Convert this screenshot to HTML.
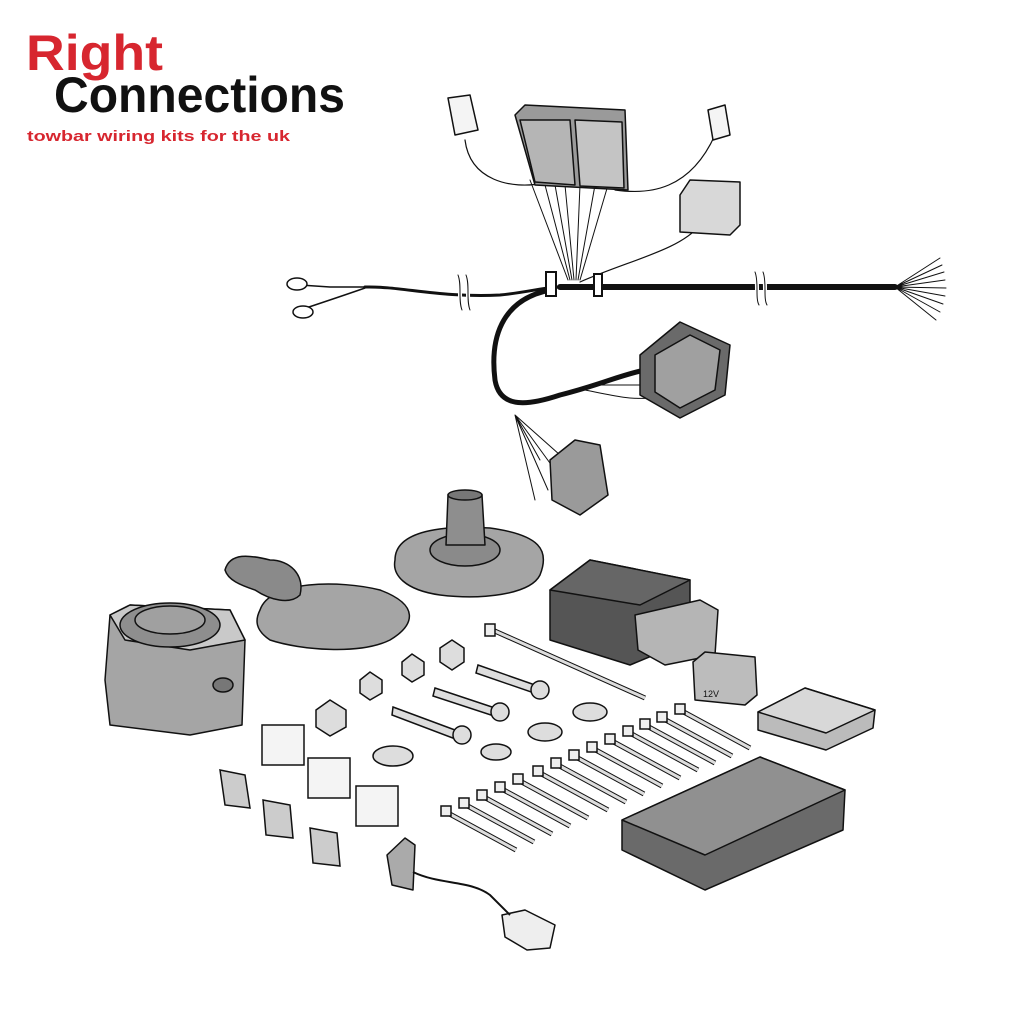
<!DOCTYPE html>
<html><head><meta charset="utf-8"><style>
html,body{margin:0;padding:0;background:#fff;}
svg{display:block}
</style></head><body>
<svg width="1024" height="1024" viewBox="0 0 1024 1024" xmlns="http://www.w3.org/2000/svg" font-family="Liberation Sans, sans-serif">
<defs>
<g id="tie" stroke="#111" stroke-width="1.5" fill="#eee">
<path d="M0 0 L70 38" stroke-width="5" stroke="#111"/><path d="M0 0 L70 38" stroke-width="3" stroke="#ddd"/>
<rect x="-5" y="-6" width="10" height="10"/>
</g>
</defs>
<rect width="1024" height="1024" fill="#fff"/>
<!-- Logo -->
<text x="26" y="70" font-size="50" font-weight="bold" fill="#d7262f" textLength="137" lengthAdjust="spacingAndGlyphs">Right</text>
<text x="54" y="112" font-size="50" font-weight="bold" fill="#111" textLength="291" lengthAdjust="spacingAndGlyphs">Connections</text>
<text x="27" y="141" font-size="15" font-weight="bold" fill="#d7262f" textLength="263" lengthAdjust="spacingAndGlyphs">towbar wiring kits for the uk</text>

<g stroke="#111" fill="none" stroke-linecap="round">
<path d="M365 287 C400 286 440 298 500 295 C530 292 545 287 560 287" stroke-width="3"/>
<path d="M560 287 L895 287" stroke-width="6"/>
<path d="M550 290 C500 300 490 340 495 380 C500 410 530 405 560 395 C600 385 620 375 645 370" stroke-width="5"/>
<path d="M330 287 L365 287 M300 285 L330 287 M300 310 C330 300 345 295 365 288" stroke-width="1.5"/>
<ellipse cx="297" cy="284" rx="10" ry="6" stroke-width="1.5" fill="#fff"/>
<ellipse cx="303" cy="312" rx="10" ry="6" stroke-width="1.5" fill="#fff"/>
<path d="M895 287 L940 258 M895 287 L942 265 M895 287 L944 272 M895 287 L945 280 M895 287 L946 288 M895 287 L945 296 M895 287 L943 304 M895 287 L940 312 M895 287 L936 320" stroke-width="1"/>
<path d="M570 280 L545 185 M572 280 L555 185 M574 280 L565 185 M576 280 L580 185 M578 280 L595 185 M580 280 L608 185 M568 280 L530 180" stroke-width="1"/>
<path d="M465 140 C470 180 510 190 545 183 M715 135 C690 190 650 195 615 190 M580 282 C630 260 680 250 700 225" stroke-width="1.2"/>
<path d="M515 415 L555 470 M515 415 L548 490 M515 415 L540 460 M515 415 L535 500 M515 415 L560 455" stroke-width="1"/>
<path d="M585 390 C610 395 630 400 650 398 M590 385 L645 385" stroke-width="1"/>
<path d="M458 275 C462 285 458 300 462 310 M466 275 C470 285 466 300 470 310 M755 272 C759 282 755 298 759 305 M763 272 C767 282 763 298 767 305" stroke="#fff" stroke-width="4"/>
<path d="M458 275 C462 285 458 300 462 310 M466 275 C470 285 466 300 470 310 M755 272 C759 282 755 298 759 305 M763 272 C767 282 763 298 767 305" stroke-width="1"/>
</g>
<rect x="546" y="272" width="10" height="24" fill="#fff" stroke="#111" stroke-width="2"/>
<rect x="594" y="274" width="8" height="22" fill="#fff" stroke="#111" stroke-width="2"/>

<g stroke="#111" stroke-width="1.5" stroke-linejoin="round">
<path d="M448 98 L470 95 L478 130 L455 135 Z" fill="#f4f4f4"/>
<path d="M708 110 L725 105 L730 135 L713 140 Z" fill="#f4f4f4"/>
<path d="M515 115 L525 105 L625 110 L628 190 L535 185 Z" fill="#9a9a9a"/>
<path d="M520 120 L570 120 L575 185 L535 182 Z" fill="#b5b5b5"/>
<path d="M575 120 L622 122 L624 188 L580 186 Z" fill="#c4c4c4"/>
<path d="M680 195 L690 180 L740 182 L740 225 L730 235 L680 232 Z" fill="#d8d8d8"/>
<path d="M640 355 L680 322 L730 345 L725 395 L680 418 L640 395 Z" fill="#6a6a6a"/>
<path d="M655 355 L690 335 L720 350 L715 390 L680 408 L655 392 Z" fill="#a0a0a0"/>
<path d="M550 460 L575 440 L600 445 L608 495 L580 515 L552 500 Z" fill="#9a9a9a"/>
<path d="M110 615 L130 605 L230 610 L245 640 L242 725 L190 735 L110 725 L105 680 Z" fill="#a5a5a5"/>
<path d="M110 615 L130 605 L230 610 L245 640 L190 650 L125 640 Z" fill="#c9c9c9"/>
<ellipse cx="170" cy="625" rx="50" ry="22" fill="#8e8e8e"/>
<ellipse cx="170" cy="620" rx="35" ry="14" fill="#a0a0a0"/>
<ellipse cx="223" cy="685" rx="10" ry="7" fill="#777"/>
<path d="M260 610 C270 580 340 580 380 590 C420 605 415 625 390 640 C360 655 300 650 270 640 C255 630 255 620 260 610 Z" fill="#a5a5a5"/>
<path d="M225 570 C230 552 250 555 270 560 C290 560 305 575 300 595 C290 605 270 600 255 590 C240 585 228 580 225 570 Z" fill="#8a8a8a"/>
<path d="M395 560 C395 530 445 525 490 528 C540 535 550 550 540 575 C530 595 480 600 440 595 C405 590 392 575 395 560 Z" fill="#a5a5a5"/>
<ellipse cx="465" cy="550" rx="35" ry="16" fill="#8a8a8a"/>
<path d="M448 495 L482 495 L485 545 L446 545 Z" fill="#8e8e8e"/>
<ellipse cx="465" cy="495" rx="17" ry="5" fill="#777"/>
<path d="M550 590 L590 560 L690 580 L690 640 L630 665 L550 640 Z" fill="#555"/>
<path d="M550 590 L590 560 L690 580 L640 605 Z" fill="#666"/>
<path d="M635 615 L700 600 L718 610 L715 655 L665 665 L638 650 Z" fill="#b5b5b5"/>
<path d="M693 662 L705 652 L755 657 L757 695 L745 705 L695 700 Z" fill="#bcbcbc"/>
<text x="703" y="697" font-size="9" fill="#111" stroke="none">12V</text>
<path d="M758 712 L805 688 L875 710 L873 728 L826 750 L758 730 Z" fill="#bbb"/>
<path d="M758 712 L805 688 L875 710 L826 733 Z" fill="#d8d8d8"/>
<path d="M622 820 L760 757 L845 790 L843 830 L705 890 L622 850 Z" fill="#6a6a6a"/>
<path d="M622 820 L760 757 L845 790 L705 855 Z" fill="#909090"/>
<path d="M387 855 L405 838 L415 845 L413 890 L392 885 Z" fill="#aaa"/>
<path d="M502 915 L525 910 L555 925 L550 948 L527 950 L505 937 Z" fill="#eee"/>
</g>
<path d="M413 872 C440 885 470 880 490 895 C500 905 505 910 510 915" stroke="#111" stroke-width="2" fill="none"/>

<g stroke="#111" stroke-width="1.5" fill="#ddd">
<polygon points="440,648 452,640 464,648 464,662 452,670 440,662"/>
<polygon points="402,662 412,654 424,662 424,675 412,682 402,675"/>
<polygon points="360,680 370,672 382,680 382,693 370,700 360,693"/>
<polygon points="316,710 330,700 346,710 346,727 330,736 316,727"/>
<ellipse cx="393" cy="756" rx="20" ry="10"/><ellipse cx="496" cy="752" rx="15" ry="8"/>
<ellipse cx="545" cy="732" rx="17" ry="9"/><ellipse cx="590" cy="712" rx="17" ry="9"/>
<path d="M393 707 L455 730 L458 740 L392 715 Z"/><ellipse cx="462" cy="735" rx="9" ry="9"/>
<path d="M435 688 L495 708 L497 717 L433 696 Z"/><ellipse cx="500" cy="712" rx="9" ry="9"/>
<path d="M478 665 L535 685 L537 694 L476 673 Z"/><ellipse cx="540" cy="690" rx="9" ry="9"/>
<rect x="262" y="725" width="42" height="40" fill="#f4f4f4"/>
<rect x="308" y="758" width="42" height="40" fill="#f4f4f4"/>
<rect x="356" y="786" width="42" height="40" fill="#f4f4f4"/>
<path d="M220 770 L245 775 L250 808 L225 805 Z" fill="#ccc"/>
<path d="M263 800 L290 805 L293 838 L266 835 Z" fill="#ccc"/>
<path d="M310 828 L337 833 L340 866 L313 863 Z" fill="#ccc"/>
</g>
<g stroke="#111" stroke-width="1.5" fill="#eee">
<path d="M488 628 L645 698" stroke-width="5" stroke="#111"/><path d="M488 628 L645 698" stroke-width="3" stroke="#ddd"/>
<rect x="485" y="624" width="10" height="12" />
</g>
<use href="#tie" x="680" y="710"/><use href="#tie" x="662" y="718"/><use href="#tie" x="645" y="725"/>
<use href="#tie" x="628" y="732"/><use href="#tie" x="610" y="740"/><use href="#tie" x="592" y="748"/>
<use href="#tie" x="574" y="756"/><use href="#tie" x="556" y="764"/><use href="#tie" x="538" y="772"/>
<use href="#tie" x="518" y="780"/><use href="#tie" x="500" y="788"/><use href="#tie" x="482" y="796"/>
<use href="#tie" x="464" y="804"/><use href="#tie" x="446" y="812"/>
</svg>
</body></html>
